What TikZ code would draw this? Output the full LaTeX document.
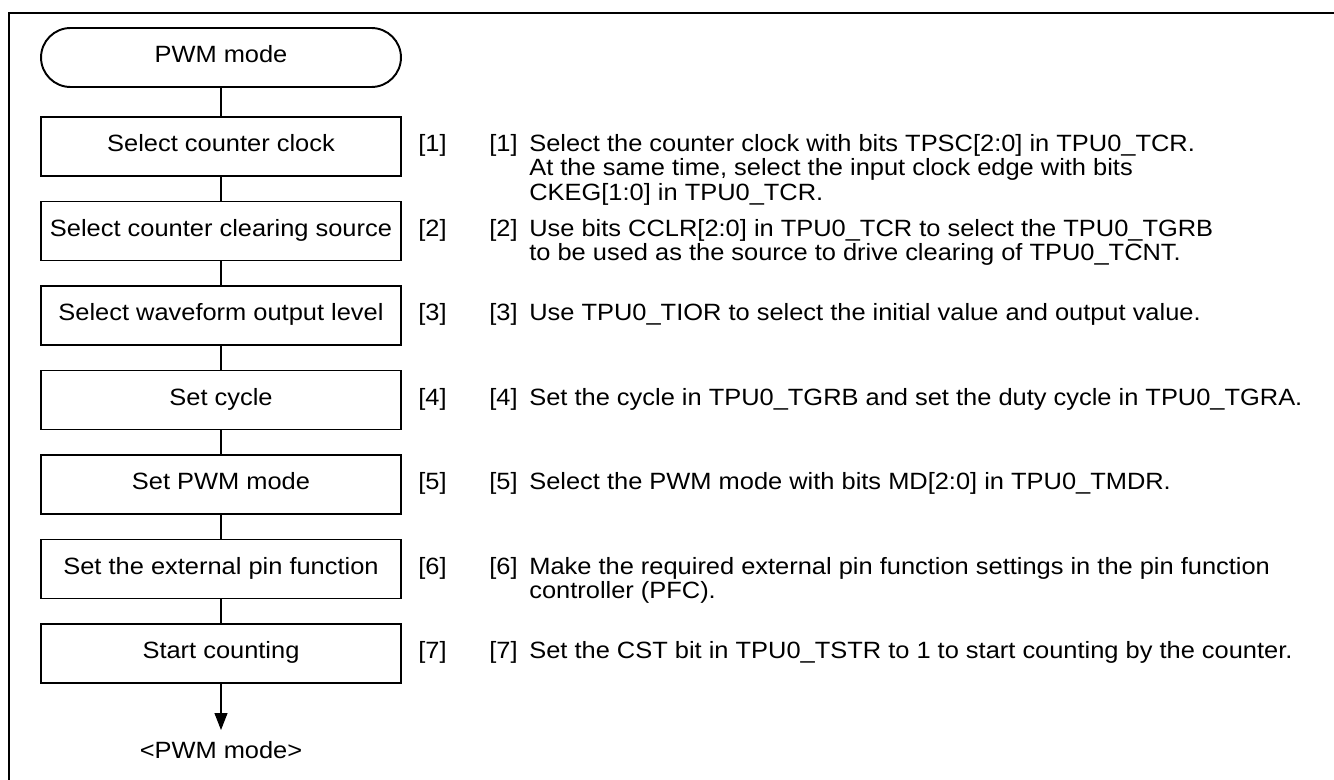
\documentclass[tikz,border=0pt]{standalone}
\usepackage{fontspec}
\setmainfont[FakeStretch=1.08]{Liberation Sans}
\usetikzlibrary{positioning,arrows.meta}

\newcommand\notetext[2]{\parbox[t]{17.5cm}{\fontsize{13.4}{13.9}\selectfont\raggedright
  \hangindent=0.8cm\hangafter=1\makebox[0.8cm][l]{[#1]}#2}}

\tikzset{
  stepbox/.style={draw, line width=1.1pt, minimum width=7.2cm, minimum height=1.18cm,
    inner xsep=2pt, text height=0.72em, text depth=0.15em},
  termbox/.style={stepbox, rounded corners=0.59cm},
  tagtxt/.style={anchor=base west, inner sep=0pt},
  desctxt/.style={anchor=base west, inner sep=0pt},
  link/.style={line width=0.6pt},
  flowarrow/.style={link, -{Triangle[length=0.34cm,width=0.26cm]}},
}

\begin{document}
\begin{tikzpicture}[x=0.02cm, y=-0.02cm, font=\fontsize{13.4}{13.9}\selectfont]
    \useasboundingbox (0,0) rectangle (1334,780);
    % frame
    \draw[line width=1.4pt] (9,780) -- (9,13) -- (1334,13);

    % flow
    \node[termbox] (start) at (221,57.5) {PWM mode};
    \node[stepbox] (b1) at (221,146.5) {Select counter clock};
    \node[stepbox] (b2) at (221,231) {Select counter clearing source};
    \node[stepbox] (b3) at (221,315.5) {Select waveform output level};
    \node[stepbox] (b4) at (221,400) {Set cycle};
    \node[stepbox] (b5) at (221,484.5) {Set PWM mode};
    \node[stepbox] (b6) at (221,569) {Set the external pin function};
    \node[stepbox] (b7) at (221,653.5) {Start counting};
    \node[text height=0.72em, text depth=0.15em, inner ysep=0.3cm] (finish) at (221,753) {<PWM mode>};

    \draw[link] (start) -- (b1) -- (b2) -- (b3) -- (b4) -- (b5) -- (b6) -- (b7);
    \draw[flowarrow] (b7) -- (finish);

    % step numbers
    \coordinate (tagx) at (418,0);
    \coordinate (descx) at (489,0);
    \node[tagtxt] (t1) at (tagx |- b1.base) {[1]};
    \node[tagtxt] (t2) at (tagx |- b2.base) {[2]};
    \node[tagtxt] (t3) at (tagx |- b3.base) {[3]};
    \node[tagtxt] (t4) at (tagx |- b4.base) {[4]};
    \node[tagtxt] (t5) at (tagx |- b5.base) {[5]};
    \node[tagtxt] (t6) at (tagx |- b6.base) {[6]};
    \node[tagtxt] (t7) at (tagx |- b7.base) {[7]};

    % notes
    \node[desctxt] (d1) at (descx |- b1.base) {\notetext{1}{Select the counter clock with bits TPSC[2:0] in TPU0\_TCR.\newline
      At the same time, select the input clock edge with bits\newline
      CKEG[1:0] in TPU0\_TCR.}};
    \node[desctxt] (d2) at (descx |- b2.base) {\notetext{2}{Use bits CCLR[2:0] in TPU0\_TCR to select the TPU0\_TGRB\newline
      to be used as the source to drive clearing of TPU0\_TCNT.}};
    \node[desctxt] (d3) at (descx |- b3.base) {\notetext{3}{Use TPU0\_TIOR to select the initial value and output value.}};
    \node[desctxt] (d4) at (descx |- b4.base) {\notetext{4}{Set the cycle in TPU0\_TGRB and set the duty cycle in TPU0\_TGRA.}};
    \node[desctxt] (d5) at (descx |- b5.base) {\notetext{5}{Select the PWM mode with bits MD[2:0] in TPU0\_TMDR.}};
    \node[desctxt] (d6) at (descx |- b6.base) {\notetext{6}{Make the required external pin function settings in the pin function\newline
      controller (PFC).}};
    \node[desctxt] (d7) at (descx |- b7.base) {\notetext{7}{Set the CST bit in TPU0\_TSTR to 1 to start counting by the counter.}};
\end{tikzpicture}
\end{document}
